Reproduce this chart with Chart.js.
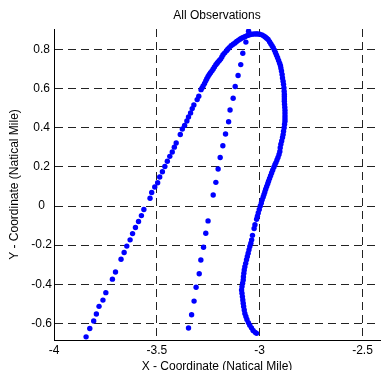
<!DOCTYPE html>
<html>
<head>
<meta charset="utf-8">
<script src="https://cdn.jsdelivr.net/npm/chart.js@4.4.1/dist/chart.umd.min.js"></script>
<style>
  html, body { margin: 0; padding: 0; background: #fff; }
  #wrap { width: 383px; height: 370px; }
</style>
</head>
<body>
<div id="wrap"><canvas id="c" width="383" height="370"></canvas></div>
<script>
// ---- data ----
const chartTitle = "All Observations";
const xAxisTitle = "X - Coordinate (Natical Mile)";
const yAxisTitle = "Y - Coordinate (Natical Mile)";
const xTicks = [-4, -3.5, -3, -2.5];
const yTicks = [-0.6, -0.4, -0.2, 0, 0.2, 0.4, 0.6, 0.8];
const xRange = [-4, -2.415];
const yRange = [-0.685, 0.905];

// left (sparse) branch
const leftX = [-3.844,-3.826,-3.807,-3.794,-3.781,-3.762,-3.748,-3.716,-3.701,-3.674,-3.659,-3.646,-3.630,-3.618,-3.604,-3.589,-3.575,-3.563,-3.533,-3.525,-3.510,-3.496,-3.486,-3.473,-3.461,-3.449,-3.437,-3.425,-3.415,-3.406,-3.386,-3.376,-3.365,-3.354,-3.346,-3.336,-3.328,-3.320,-3.304,-3.296];
const leftY = [-0.669,-0.626,-0.588,-0.552,-0.513,-0.481,-0.443,-0.374,-0.337,-0.272,-0.238,-0.205,-0.173,-0.141,-0.110,-0.079,-0.049,-0.018,0.040,0.069,0.097,0.119,0.148,0.175,0.202,0.229,0.254,0.276,0.301,0.322,0.366,0.394,0.412,0.435,0.455,0.476,0.498,0.517,0.544,0.561];

// middle (sparse) line
const midX = [-3.054,-3.067,-3.082,-3.092,-3.105,-3.119,-3.129,-3.144,-3.151,-3.166,-3.179,-3.192,-3.202,-3.213,-3.226,-3.251,-3.262,-3.273,-3.286,-3.294,-3.309,-3.319,-3.331,-3.346];
const midY = [0.894,0.838,0.781,0.723,0.667,0.611,0.551,0.491,0.431,0.368,0.308,0.248,0.189,0.121,0.056,-0.076,-0.139,-0.211,-0.276,-0.346,-0.415,-0.486,-0.556,-0.624];

// dense arc
const arcX = [-3.285,-3.280,-3.275,-3.268,-3.262,-3.257,-3.251,-3.245,-3.239,-3.232,-3.226,-3.220,-3.213,-3.207,-3.202,-3.196,-3.190,-3.184,-3.178,-3.170,-3.161,-3.155,-3.148,-3.139,-3.129,-3.120,-3.112,-3.104,-3.096,-3.088,-3.080,-3.072,-3.064,-3.056,-3.048,-3.040,-3.032,-3.024,-3.016,-3.009,-3.000,-2.989,-2.981,-2.973,-2.966,-2.959,-2.952,-2.946,-2.940,-2.934,-2.928,-2.923,-2.918,-2.913,-2.908,-2.903,-2.899,-2.897,-2.894,-2.891,-2.889,-2.886,-2.884,-2.882,-2.881,-2.880,-2.880,-2.880,-2.880,-2.879,-2.878,-2.877,-2.877,-2.877,-2.877,-2.877,-2.879,-2.881,-2.884,-2.886,-2.889,-2.893,-2.897,-2.900,-2.902,-2.906,-2.911,-2.916,-2.921,-2.926,-2.931,-2.937,-2.942,-2.947,-2.952,-2.957,-2.961,-2.966,-2.971,-2.975,-2.979,-2.983,-2.988,-2.992,-2.997,-3.002,-3.007,-3.011,-3.015,-3.023,-3.027,-3.035,-3.039,-3.043,-3.048,-3.052,-3.056,-3.060,-3.064,-3.068,-3.072,-3.075,-3.077,-3.079,-3.080,-3.083,-3.086,-3.088,-3.086,-3.084,-3.082,-3.080,-3.078,-3.075,-3.072,-3.067,-3.062,-3.055,-3.048,-3.040,-3.032,-3.022,-3.015];
const arcY = [0.595,0.604,0.614,0.627,0.640,0.651,0.662,0.672,0.681,0.691,0.701,0.711,0.722,0.730,0.737,0.744,0.751,0.762,0.773,0.783,0.794,0.802,0.810,0.819,0.827,0.834,0.841,0.847,0.853,0.858,0.862,0.866,0.870,0.873,0.876,0.878,0.879,0.880,0.880,0.880,0.878,0.875,0.870,0.864,0.858,0.851,0.840,0.830,0.820,0.809,0.796,0.784,0.771,0.758,0.744,0.730,0.718,0.706,0.690,0.672,0.655,0.638,0.622,0.604,0.587,0.572,0.560,0.547,0.535,0.520,0.505,0.490,0.475,0.460,0.446,0.433,0.418,0.400,0.382,0.365,0.350,0.333,0.316,0.298,0.279,0.263,0.248,0.235,0.222,0.211,0.198,0.183,0.169,0.155,0.141,0.127,0.114,0.100,0.086,0.072,0.059,0.046,0.032,0.016,0.000,-0.018,-0.036,-0.052,-0.068,-0.096,-0.115,-0.150,-0.173,-0.190,-0.207,-0.224,-0.241,-0.258,-0.275,-0.293,-0.310,-0.327,-0.344,-0.361,-0.378,-0.395,-0.412,-0.429,-0.446,-0.463,-0.480,-0.497,-0.514,-0.531,-0.549,-0.565,-0.580,-0.596,-0.609,-0.623,-0.636,-0.646,-0.651];

// ---- build chart ----
function pts(xs, ys) { return xs.map((x, i) => ({ x: x, y: ys[i] })); }
const FONT = "'Liberation Sans', Arial, sans-serif";
const FS = 12;
const dotStyle = { backgroundColor: '#0000ff', borderWidth: 0, pointRadius: 2.7, pointHoverRadius: 2.7, showLine: false };

new Chart(document.getElementById('c'), {
  type: 'scatter',
  data: {
    datasets: [
      Object.assign({ label: 'left', data: pts(leftX, leftY) }, dotStyle),
      Object.assign({ label: 'middle', data: pts(midX, midY) }, dotStyle),
      Object.assign({ label: 'arc', data: pts(arcX, arcY) }, dotStyle)
    ]
  },
  options: {
    responsive: false,
    animation: false,
    events: [],
    layout: { padding: { top: 0, right: 3, bottom: 0, left: 0 } },
    plugins: {
      legend: { display: false },
      tooltip: { enabled: false },
      title: {
        display: true,
        text: chartTitle,
        fullSize: false,
        color: '#000',
        font: { family: FONT, size: FS, weight: 'normal' },
        padding: { top: 8.9, bottom: 5.7 }
      }
    },
    scales: {
      x: {
        type: 'linear',
        min: xRange[0], max: xRange[1],
        afterFit: s => { s.height = 30; },
        afterBuildTicks: s => { s.ticks = xTicks.map(v => ({ value: v })); },
        ticks: { color: '#000', padding: 3.8, maxRotation: 0, font: { family: FONT, size: FS },
                 callback: v => String(v) },
        grid: { color: '#222', lineWidth: 1, drawTicks: false },
        border: { display: true, color: '#000', width: 1, dash: [8, 5] },
        title: { display: true, text: xAxisTitle, color: '#000', padding: { top: 0, bottom: -4 },
                 font: { family: FONT, size: FS } }
      },
      y: {
        type: 'linear',
        min: yRange[0], max: yRange[1],
        afterFit: s => { s.width = 54; },
        afterBuildTicks: s => { s.ticks = yTicks.map(v => ({ value: v })); },
        ticks: { color: '#000', padding: 2, crossAlign: 'center', font: { family: FONT, size: FS },
                 callback: v => String(Math.round(v * 10) / 10) },
        grid: { color: '#222', lineWidth: 1, drawTicks: false },
        border: { display: true, color: '#000', width: 1, dash: [8, 5] },
        title: { display: true, text: yAxisTitle, color: '#000', padding: { top: 7.2, bottom: 0 },
                 font: { family: FONT, size: FS } }
      }
    }
  }
});
</script>
</body>
</html>
